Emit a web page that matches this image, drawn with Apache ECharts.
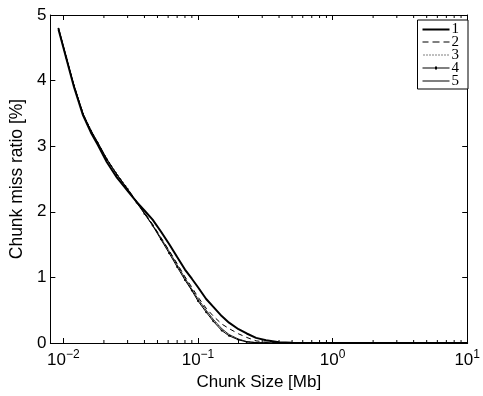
<!DOCTYPE html>
<html>
<head>
<meta charset="utf-8">
<script src="https://cdn.jsdelivr.net/npm/echarts@6/dist/echarts.min.js"></script>
<style>
html,body{margin:0;padding:0;background:#fff;}
#c{width:483px;height:396px;}
</style>
</head>
<body>
<div id="c"></div>
<script>
// Chunk size [Mb]
var chunkSizes = [0.0092, 0.0105, 0.012, 0.014, 0.016, 0.018, 0.021, 0.025, 0.03, 0.035, 0.04, 0.046, 0.053, 0.061, 0.07, 0.08, 0.09, 0.1, 0.115, 0.13, 0.15, 0.17, 0.2, 0.23, 0.27, 0.32, 0.4, 0.5, 0.7, 1, 2, 5, 10];
var series1 = [4.78, 4.34, 3.90, 3.47, 3.21, 3.02, 2.76, 2.52, 2.32, 2.15, 2.02, 1.88, 1.70, 1.51, 1.31, 1.12, 0.98, 0.85, 0.67, 0.55, 0.41, 0.31, 0.21, 0.145, 0.078, 0.043, 0.012, 0.004, 0.001, 0, 0, 0, 0];
var series2 = [4.79, 4.35, 3.92, 3.49, 3.24, 3.05, 2.80, 2.57, 2.35, 2.16, 1.99, 1.81, 1.61, 1.41, 1.21, 1.01, 0.85, 0.70, 0.53, 0.41, 0.29, 0.22, 0.14, 0.085, 0.033, 0.012, 0.003, 0.001, 0, 0, 0, 0, 0];
var series3 = [4.80, 4.36, 3.93, 3.50, 3.25, 3.06, 2.81, 2.58, 2.36, 2.15, 1.98, 1.80, 1.59, 1.39, 1.18, 0.98, 0.81, 0.66, 0.49, 0.35, 0.21, 0.125, 0.055, 0.02, 0.006, 0.002, 0, 0, 0, 0, 0, 0, 0];
var series4 = [4.79, 4.35, 3.92, 3.49, 3.24, 3.05, 2.80, 2.56, 2.34, 2.14, 1.97, 1.79, 1.58, 1.37, 1.16, 0.96, 0.80, 0.64, 0.47, 0.33, 0.19, 0.11, 0.048, 0.016, 0.005, 0.001, 0, 0, 0, 0, 0, 0, 0];
var series5 = [4.80, 4.36, 3.92, 3.49, 3.24, 3.06, 2.81, 2.57, 2.35, 2.15, 1.98, 1.80, 1.60, 1.40, 1.19, 0.99, 0.82, 0.67, 0.50, 0.36, 0.22, 0.13, 0.06, 0.022, 0.007, 0.002, 0, 0, 0, 0, 0, 0, 0];
var seriesNames = ['1', '2', '3', '4', '5'];
var minorTickValues = [0.02,0.03,0.04,0.05,0.06,0.07,0.08,0.09,0.2,0.3,0.4,0.5,0.6,0.7,0.8,0.9,2,3,4,5,6,7,8,9];
var xMin = 0.008, xMax = 10, yMin = 0, yMax = 5;

function pairs(ys){ return chunkSizes.map(function(x,i){ return [x, ys[i]]; }); }

function logLabel(v){
  var l = Math.log10(v);
  var e = Math.round(l);
  if (Math.abs(l - e) > 1e-6) return '';
  return '{b|10}{s|' + (e < 0 ? '\u2212' + (-e) : e) + '}';
}

// legend icons (line samples) as paths within a 27x12 box
var box = 'M0,0h0.01v0.01h-0.01z M26.99,11.99h0.01v0.01h-0.01z ';
var dots = '';
for (var i = 1; i < 27; i += 3) dots += 'M' + i + ',5h1v1h-1z ';
var legendIcons = {
  '1': 'path://' + box + 'M0,5h27v2h-27z',
  '2': 'path://' + box + 'M0,5h6v1h-6z M10,5h7v1h-7z M21,5h6v1h-6z',
  '3': 'path://' + box + dots,
  '4': 'path://' + box + 'M0,5h27v1h-27z M12.5,4h2v3h-2z',
  '5': 'path://' + box + 'M0,5h27v1h-27z'
};

var axisFont = 'Liberation Sans, Arial, sans-serif';
var chart = echarts.init(document.getElementById('c'), null, {renderer:'canvas'});
var black = '#000';
var option = {
  animation: false,
  backgroundColor: '#fff',
  grid: {left: 46, right: 10, top: 15, bottom: 45, containLabel: false},
  legend: {
    data: seriesNames.map(function(n){ return {name: n, icon: legendIcons[n]}; }),
    orient: 'vertical',
    right: 15, top: 20,
    itemWidth: 27, itemHeight: 12, itemGap: -2,
    padding: [2, 9, 0, 5],
    borderColor: black, borderWidth: 1,
    backgroundColor: '#fff',
    itemStyle: {color: black, borderWidth: 0},
    textStyle: {fontFamily: 'Liberation Serif, DejaVu Serif, serif', fontSize: 15, color: black, padding: [0,0,0,-3]},
    inactiveColor: black
  },
  xAxis: [{
    type: 'log', min: xMin, max: xMax, logBase: 10,
    position: 'bottom',
    name: 'Chunk Size [Mb]', nameLocation: 'middle', nameGap: 31,
    nameTextStyle: {fontFamily: axisFont, fontSize: 17, color: black},
    axisLine: {show: true, onZero: false, lineStyle: {color: black, width: 1}},
    axisTick: {show: true, inside: true, length: 5, lineStyle: {color: black}},
    splitLine: {show: false},
    axisLabel: {
      formatter: logLabel, margin: 6, color: black,
      showMinLabel: true, showMaxLabel: true,
      rich: {
        b: {fontFamily: axisFont, fontSize: 17, color: black, lineHeight: 20, verticalAlign: 'bottom'},
        s: {fontFamily: axisFont, fontSize: 12, color: black, lineHeight: 20, verticalAlign: 'top', padding: [0,0,6,0]}
      }
    }
  }, {
    type: 'log', min: xMin, max: xMax, logBase: 10,
    position: 'top',
    axisLine: {show: true, onZero: false, lineStyle: {color: black, width: 1}},
    axisTick: {show: true, inside: true, length: 5, lineStyle: {color: black}},
    axisLabel: {show: false},
    splitLine: {show: false}
  }],
  yAxis: [{
    type: 'value', min: yMin, max: yMax, interval: 1,
    position: 'left',
    name: 'Chunk miss ratio [%]', nameLocation: 'middle', nameGap: 19,
    nameTextStyle: {fontFamily: axisFont, fontSize: 17.5, color: black},
    axisLine: {show: true, onZero: false, lineStyle: {color: black, width: 1}},
    axisTick: {show: true, inside: true, length: 5, lineStyle: {color: black}},
    axisLabel: {fontFamily: axisFont, fontSize: 17, color: black, margin: 4},
    splitLine: {show: false}
  }, {
    type: 'value', min: yMin, max: yMax, interval: 1,
    position: 'right',
    axisLine: {show: true, onZero: false, lineStyle: {color: black, width: 1}},
    axisTick: {show: true, inside: true, length: 5, lineStyle: {color: black}},
    axisLabel: {show: false},
    splitLine: {show: false}
  }],
  series: [
    {name: '1', type: 'line', data: pairs(series1), symbol: 'none', smooth: false,
     lineStyle: {color: black, width: 2}, itemStyle: {color: black}, z: 5},
    {name: '2', type: 'line', data: pairs(series2), symbol: 'none',
     lineStyle: {color: black, width: 1, type: [5, 4]}, itemStyle: {color: black}},
    {name: '3', type: 'line', data: pairs(series3), symbol: 'none',
     lineStyle: {color: black, width: 1, type: [1, 3]}, itemStyle: {color: black}},
    {name: '4', type: 'line', data: pairs(series4), symbol: 'circle', symbolSize: 2, showSymbol: true,
     lineStyle: {color: black, width: 1}, itemStyle: {color: black}},
    {name: '5', type: 'line', data: pairs(series5), symbol: 'none',
     lineStyle: {color: black, width: 0.8}, itemStyle: {color: black}},
    {name: 'minorTicks', type: 'custom', xAxisIndex: 0, yAxisIndex: 0, silent: true,
     data: minorTickValues.map(function(v){ return [v]; }),
     renderItem: function(params, api){
       var v = api.value(0);
       var b = api.coord([v, yMin]);
       var t = api.coord([v, yMax]);
       return {type: 'group', children: [
         {type: 'line', shape: {x1: b[0], y1: b[1], x2: b[0], y2: b[1] - 3}, style: {stroke: black, lineWidth: 1}},
         {type: 'line', shape: {x1: t[0], y1: t[1], x2: t[0], y2: t[1] + 3}, style: {stroke: black, lineWidth: 1}}
       ]};
     }}
  ]
};
chart.setOption(option);
</script>
</body>
</html>
